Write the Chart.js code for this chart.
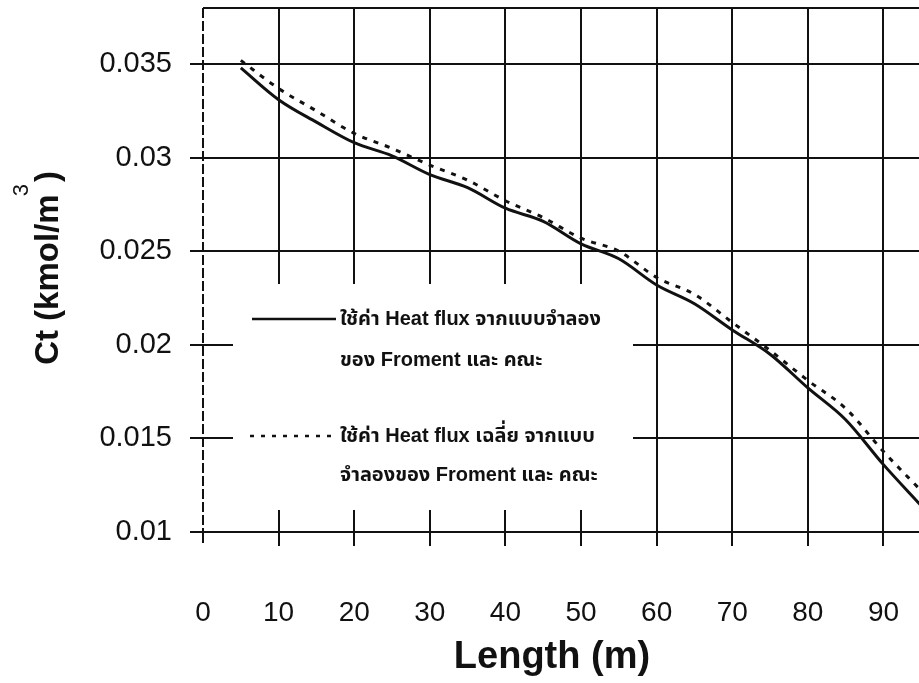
<!DOCTYPE html>
<html>
<head>
<meta charset="utf-8">
<script src="https://cdn.jsdelivr.net/npm/chart.js@4.4.1/dist/chart.umd.min.js"></script>
<style>
  body { margin: 0; background: #fff; }
  #wrap { width: 919px; height: 683px; position: relative; }
</style>
</head>
<body>
<div id="wrap"><canvas id="myChart"></canvas></div>
<script>
// Length along the reactor (m) and concentration Ct (kmol/m3)
const lengths = [5, 10, 15, 20, 25, 30, 35, 40, 45, 50, 55, 60, 65, 70, 75, 80, 85, 90, 95];
const ctModel = [0.0348, 0.0331, 0.0319, 0.0308, 0.0301, 0.0291, 0.0284, 0.0273, 0.0266, 0.0254,
  0.0246, 0.0232, 0.0222, 0.0208, 0.0195, 0.0177, 0.016, 0.0136, 0.0114];
const ctAverage = [0.0352, 0.0337, 0.0325, 0.0313, 0.0305, 0.0296, 0.0288, 0.0277, 0.0268, 0.0257,
  0.025, 0.0236, 0.0227, 0.0212, 0.0197, 0.0181, 0.0166, 0.0143, 0.0122];
const xTicks = [0, 10, 20, 30, 40, 50, 60, 70, 80, 90];
const yTicks = [0.01, 0.015, 0.02, 0.025, 0.03, 0.035];
const legendModel = ["ใช้ค่า Heat flux จากแบบจำลอง", "ของ Froment และ คณะ"];
const legendAverage = ["ใช้ค่า Heat flux เฉลี่ย จากแบบ", "จำลองของ Froment และ คณะ"];

const sans = "'Liberation Sans', Arial, sans-serif";
const thaiFont = "bold 20px 'Liberation Sans', 'Noto Sans Thai', 'Noto Sans', sans-serif";

function pairs(ys) {
  return lengths.map((x, i) => ({ x: x, y: ys[i] }));
}

// white legend box over the grid, top border, legend and axis titles
const paper = {
  id: "paper",
  beforeDatasetsDraw(chart) {
    const ctx = chart.ctx;
    const ca = chart.chartArea;
    ctx.save();
    ctx.fillStyle = "#fff";
    ctx.fillRect(ca.left + 30, 284, 400, ca.bottom - 22 - 284);
    ctx.strokeStyle = "#111";
    ctx.lineWidth = 2;
    ctx.beginPath();
    ctx.moveTo(ca.left, ca.top);
    ctx.lineTo(ca.right, ca.top);
    ctx.stroke();
    ctx.restore();
  },
  afterDraw(chart) {
    const ctx = chart.ctx;
    const ca = chart.chartArea;
    ctx.save();
    ctx.fillStyle = "#111";
    ctx.strokeStyle = "#111";

    // legend
    const lx = ca.left + 49;
    ctx.lineWidth = 2.5;
    ctx.beginPath();
    ctx.moveTo(lx, 319);
    ctx.lineTo(lx + 84, 319);
    ctx.stroke();
    ctx.setLineDash([4, 7]);
    ctx.beginPath();
    ctx.moveTo(lx - 2, 436);
    ctx.lineTo(lx + 84, 436);
    ctx.stroke();
    ctx.setLineDash([]);
    ctx.font = thaiFont;
    ctx.textBaseline = "middle";
    ctx.textAlign = "left";
    ctx.fillText(legendModel[0], lx + 88, 319);
    ctx.fillText(legendModel[1], lx + 88, 360);
    ctx.fillText(legendAverage[0], lx + 88, 436);
    ctx.fillText(legendAverage[1], lx + 88, 475);

    // x title
    ctx.font = "bold 38px " + sans;
    ctx.textAlign = "center";
    ctx.textBaseline = "alphabetic";
    ctx.fillText("Length (m)", 552, 668);

    // y title with raised 3
    ctx.translate(58, 268);
    ctx.rotate(-Math.PI / 2);
    const main = "Ct (kmol/m";
    ctx.font = "bold 33px " + sans;
    const w1 = ctx.measureText(main).width;
    const w3 = ctx.measureText(")").width;
    ctx.font = "22px " + sans;
    const w2 = ctx.measureText("3").width;
    const x0 = -(w1 + w2 + w3) / 2;
    ctx.textAlign = "left";
    ctx.font = "bold 33px " + sans;
    ctx.fillText(main, x0, 0);
    ctx.font = "22px " + sans;
    ctx.fillText("3", x0 + w1 - 2, -30);
    ctx.font = "bold 33px " + sans;
    ctx.fillText(")", x0 + w1 + w2, 0);
    ctx.restore();
  },
};

new Chart(document.getElementById("myChart"), {
  type: "line",
  data: {
    datasets: [
      {
        label: legendModel.join(" "),
        data: pairs(ctModel),
        borderColor: "#111",
        borderWidth: 3,
        pointRadius: 0,
        cubicInterpolationMode: "monotone",
      },
      {
        label: legendAverage.join(" "),
        data: pairs(ctAverage),
        borderColor: "#111",
        borderWidth: 3,
        borderDash: [5, 7],
        pointRadius: 0,
        cubicInterpolationMode: "monotone",
      },
    ],
  },
  options: {
    responsive: true,
    maintainAspectRatio: false,
    animation: false,
    layout: { padding: { top: 8, right: 0, left: 0, bottom: 0 } },
    plugins: { legend: { display: false }, tooltip: { enabled: false } },
    scales: {
      x: {
        type: "linear",
        min: 0,
        max: 94.7,
        afterBuildTicks: (scale) => {
          scale.ticks = xTicks.map((v) => ({ value: v }));
        },
        afterFit: (scale) => {
          scale.height = 151;
          scale.paddingLeft = 0;
          scale.paddingRight = 0;
        },
        grid: {
          color: "#111",
          lineWidth: 2,
          tickLength: 14,
          tickBorderDash: (c) => (c.tick && c.tick.value === 0 ? [10, 3] : []),
        },
        border: {
          display: true,
          color: "#111",
          width: 2,
          dash: (c) => (c.tick && c.tick.value === 0 ? [10, 3] : []),
        },
        ticks: {
          font: { family: sans, size: 28 },
          color: "#111",
          padding: 50,
          maxRotation: 0,
          callback: (v) => String(v),
        },
      },
      y: {
        type: "linear",
        min: 0.01,
        max: 0.038,
        afterBuildTicks: (scale) => {
          scale.ticks = yTicks.map((v) => ({ value: v }));
        },
        afterFit: (scale) => {
          scale.width = 203;
          scale.paddingTop = 0;
          scale.paddingBottom = 0;
        },
        grid: { color: "#111", lineWidth: 2, tickLength: 13 },
        border: { display: false },
        ticks: {
          font: { family: sans, size: 29 },
          color: "#111",
          padding: 18,
          callback: (v) => String(+v.toFixed(3)),
        },
      },
    },
  },
  plugins: [paper],
});
</script>
</body>
</html>
